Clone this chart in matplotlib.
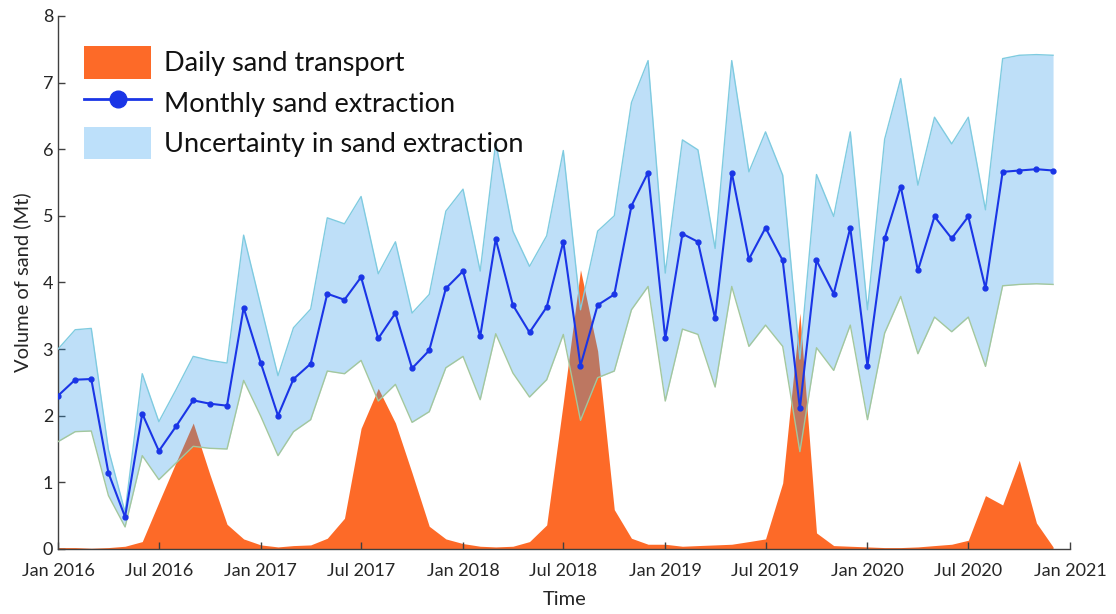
import matplotlib
matplotlib.use("Agg")
import matplotlib.pyplot as plt
import matplotlib.dates as mdates
from matplotlib.patches import Patch
from matplotlib.lines import Line2D
import pandas as pd

months = pd.date_range("2016-01-01", periods=60, freq="MS")

extraction = [2.30, 2.54, 2.55, 1.14, 0.48, 2.03, 1.47, 1.84, 2.23, 2.18, 2.15, 3.62,
              2.79, 2.00, 2.55, 2.78, 3.83, 3.74, 4.08, 3.16, 3.54, 2.71, 2.98, 3.91,
              4.17, 3.19, 4.65, 3.66, 3.25, 3.63, 4.61, 2.75, 3.66, 3.82, 5.15, 5.65,
              3.16, 4.73, 4.61, 3.46, 5.65, 4.35, 4.82, 4.33, 2.11, 4.33, 3.83, 4.82,
              2.75, 4.66, 5.44, 4.18, 4.99, 4.66, 4.99, 3.91, 5.66, 5.68, 5.70, 5.68]

upper = [3.00, 3.29, 3.31, 1.49, 0.55, 2.63, 1.91, 2.39, 2.89, 2.83, 2.79, 4.71,
         3.65, 2.60, 3.32, 3.60, 4.97, 4.88, 5.29, 4.13, 4.61, 3.54, 3.82, 5.07,
         5.40, 4.17, 6.10, 4.77, 4.24, 4.70, 5.98, 3.59, 4.77, 5.00, 6.70, 7.33,
         4.14, 6.14, 5.99, 4.51, 7.33, 5.66, 6.26, 5.61, 2.85, 5.62, 4.99, 6.26,
         3.59, 6.15, 7.06, 5.46, 6.48, 6.08, 6.48, 5.09, 7.36, 7.41, 7.42, 7.41]

lower = [1.61, 1.76, 1.77, 0.80, 0.33, 1.40, 1.04, 1.29, 1.54, 1.51, 1.50, 2.53,
         1.99, 1.40, 1.76, 1.94, 2.67, 2.63, 2.83, 2.22, 2.47, 1.90, 2.06, 2.72,
         2.89, 2.24, 3.23, 2.64, 2.28, 2.54, 3.22, 1.93, 2.57, 2.67, 3.59, 3.94,
         2.22, 3.30, 3.22, 2.43, 3.94, 3.04, 3.36, 3.04, 1.46, 3.02, 2.68, 3.36,
         1.94, 3.24, 3.79, 2.93, 3.48, 3.26, 3.48, 2.74, 3.95, 3.97, 3.98, 3.97]

transport = [0.02, 0.02, 0.01, 0.02, 0.04, 0.11, 0.70, 1.30, 1.89, 1.12, 0.37, 0.15,
             0.06, 0.03, 0.05, 0.06, 0.16, 0.46, 1.81, 2.41, 1.89, 1.14, 0.34, 0.15,
             0.08, 0.04, 0.03, 0.04, 0.11, 0.36, 2.20, 4.19, 2.97, 0.59, 0.16, 0.07,
             0.07, 0.04, 0.05, 0.06, 0.07, 0.11, 0.15, 0.99, 3.54, 0.24, 0.05, 0.04,
             0.03, 0.02, 0.02, 0.03, 0.05, 0.07, 0.13, 0.80, 0.66, 1.33, 0.39, 0.03]

legend_labels = ["Daily sand transport", "Monthly sand extraction",
                 "Uncertainty in sand extraction"]

plt.rcParams["font.family"] = ["Lato", "DejaVu Sans"]

orange = "#fd6a28"
band_col = "#2a98e8"
line_col = "#1a35e6"
txt = "#262626"

fig = plt.figure(figsize=(11.16, 6.14), dpi=100)
ax = fig.add_axes([0.052, 0.106, 0.907, 0.868])

ax.fill_between(months, 0, transport, color=orange, linewidth=0, zorder=1)
ax.fill_between(months, lower, upper, color=band_col, alpha=0.3, linewidth=0, zorder=2)
ax.plot(months, upper, color="#7fcbe0", linewidth=1.0, zorder=3)
ax.plot(months, lower, color="#a3c79d", linewidth=1.0, zorder=3)
ax.plot(months, extraction, color=line_col, linewidth=1.5, marker="o",
        markersize=3.5, zorder=4)

ax.set_xlim(pd.Timestamp("2016-01-01"), pd.Timestamp("2021-01-01"))
ax.set_ylim(0, 8)
ax.xaxis.set_major_locator(mdates.MonthLocator(bymonth=[1, 7]))
ax.xaxis.set_major_formatter(mdates.DateFormatter("%b %Y"))
ax.set_yticks(range(0, 9))

for s in ["top", "right"]:
    ax.spines[s].set_visible(False)
for s in ["left", "bottom"]:
    ax.spines[s].set_color("#404040")
    ax.spines[s].set_linewidth(1.0)
ax.tick_params(direction="in", length=5, width=1, colors="#404040",
               labelcolor=txt, labelsize=13)
ax.tick_params(axis="x", pad=10)

ax.set_xlabel("Time", fontsize=14.5, color=txt, labelpad=9)
ax.set_ylabel("Volume of sand (Mt)", fontsize=14.5, color=txt, labelpad=8)

handles = [Patch(facecolor=orange, edgecolor="none"),
           Line2D([0], [0], color=line_col, linewidth=2, marker="o", markersize=12),
           Patch(facecolor="#bde0fa", edgecolor="none")]
leg = ax.legend(handles, legend_labels, loc="upper left", bbox_to_anchor=(0.026, 0.943),
                frameon=False, fontsize=19.5, handlelength=2.45, handleheight=1.45,
                handletextpad=0.5, labelspacing=0.3, borderaxespad=0.0,
                borderpad=0.0)
for t in leg.get_texts():
    t.set_color("#111111")

fig.savefig("out.png", dpi=100)
